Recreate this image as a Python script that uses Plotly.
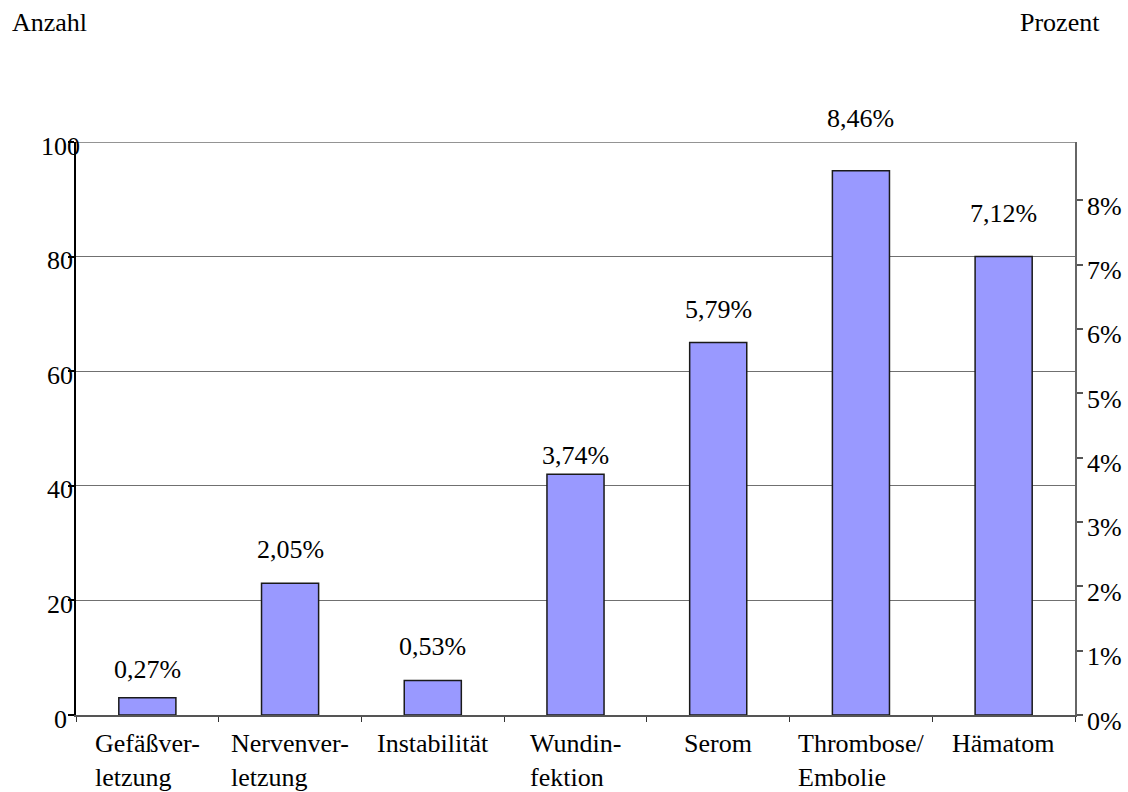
import plotly.graph_objects as go

categories = ["Gefäßverletzung", "Nervenverletzung", "Instabilität", "Wundinfektion",
              "Serom", "Thrombose/Embolie", "Hämatom"]
category_labels = ["Gefäßver-<br>letzung", "Nervenver-<br>letzung", "Instabilität",
                   "Wundin-<br>fektion", "Serom", "Thrombose/<br>Embolie", "Hämatom"]
counts = [3, 23, 6, 42, 65, 95, 80]
percent_labels = ["0,27%", "2,05%", "0,53%", "3,74%", "5,79%", "8,46%", "7,12%"]
total_cases = 1123  # base for the right-hand percentage axis
pct_ticks = [0, 1, 2, 3, 4, 5, 6, 7, 8]
pct_ticktext = ["0%", "1%", "2%", "3%", "4%", "5%", "6%", "7%", "8%"]
count_ticks = [0, 20, 40, 60, 80, 100]
count_ticktext = ["0", "20", "40", "60", "80", "100"]
label_offsets = [28, 34, 34, 19, 33, 52, 43]  # px gap above bar tops

FONT = "Liberation Serif"
FS = 26
TXT = dict(family=FONT, size=FS, color="black")

fig = go.Figure()
fig.add_trace(go.Bar(
    x=categories, y=counts, width=0.4,
    marker=dict(color="#9999FF", line=dict(color="#1a1a1a", width=1.5)),
    showlegend=False, hoverinfo="skip",
))
# invisible trace to activate the secondary (percent) axis
fig.add_trace(go.Scatter(x=[categories[0]], y=[0], yaxis="y2", mode="markers",
                         marker=dict(opacity=0), showlegend=False, hoverinfo="skip"))

# value labels above bars
for cat, c, lab, off in zip(categories, counts, percent_labels, label_offsets):
    fig.add_annotation(x=cat, y=c, xref="x", yref="y", text=lab, showarrow=False,
                       yanchor="middle", yshift=off, font=TXT)

# category labels (lines left-aligned within a centred block)
for cat, lab in zip(categories, category_labels):
    fig.add_annotation(x=cat, y=0, xref="x", yref="paper", text=lab, showarrow=False,
                       yanchor="top", yshift=-12, align="left", font=TXT)

# left axis tick labels (centred, as in the original)
for v, t in zip(count_ticks, count_ticktext):
    fig.add_annotation(x=0, y=v, xref="paper", yref="y", text=t, showarrow=False,
                       xanchor="center", yanchor="middle", xshift=-16, yshift=-4, font=TXT)

# right axis tick labels
for v, t in zip(pct_ticks, pct_ticktext):
    fig.add_annotation(x=1, y=v, xref="paper", yref="y2", text=t, showarrow=False,
                       xanchor="left", yanchor="middle", xshift=10, yshift=-6, font=TXT)

fig.add_annotation(x=0, y=1, xref="paper", yref="paper", text="Anzahl", showarrow=False,
                   xanchor="left", yanchor="top", xshift=-66, yshift=136, font=TXT)
fig.add_annotation(x=1, y=1, xref="paper", yref="paper", text="Prozent", showarrow=False,
                   xanchor="right", yanchor="top", xshift=27, yshift=136, font=TXT)

# top gridline at the axis maximum
fig.add_shape(type="line", xref="paper", x0=0, x1=1, yref="y",
              y0=count_ticks[-1], y1=count_ticks[-1],
              line=dict(color="#707070", width=1.3), layer="below")

pct_max = 100 / total_cases * 100

fig.update_layout(
    width=1128, height=792,
    margin=dict(l=76, r=53, t=142, b=77, autoexpand=False),
    paper_bgcolor="white", plot_bgcolor="white",
    font=TXT,
    bargap=0.6,
    xaxis=dict(
        type="category", showticklabels=False, tickson="boundaries",
        ticks="outside", ticklen=5, tickcolor="#333333", tickwidth=1,
        showline=True, linecolor="#555555", linewidth=1.5, showgrid=False,
        range=[-0.5, 6.5], fixedrange=True, automargin=False,
    ),
    yaxis=dict(
        range=[0, 100], tickvals=count_ticks, showticklabels=False,
        ticks="outside", ticklen=6, tickcolor="black", tickwidth=1.5,
        showline=True, linecolor="black", linewidth=1.5,
        showgrid=True, gridcolor="#707070", gridwidth=1.3,
        zeroline=False, automargin=False,
    ),
    yaxis2=dict(
        overlaying="y", side="right", range=[0, pct_max],
        tickmode="array", tickvals=pct_ticks, showticklabels=False,
        ticks="outside", ticklen=6, tickcolor="#555555", tickwidth=1.5,
        showline=True, linecolor="#666666", linewidth=1.5,
        showgrid=False, zeroline=False, automargin=False,
    ),
)

fig.write_html("out.html")
